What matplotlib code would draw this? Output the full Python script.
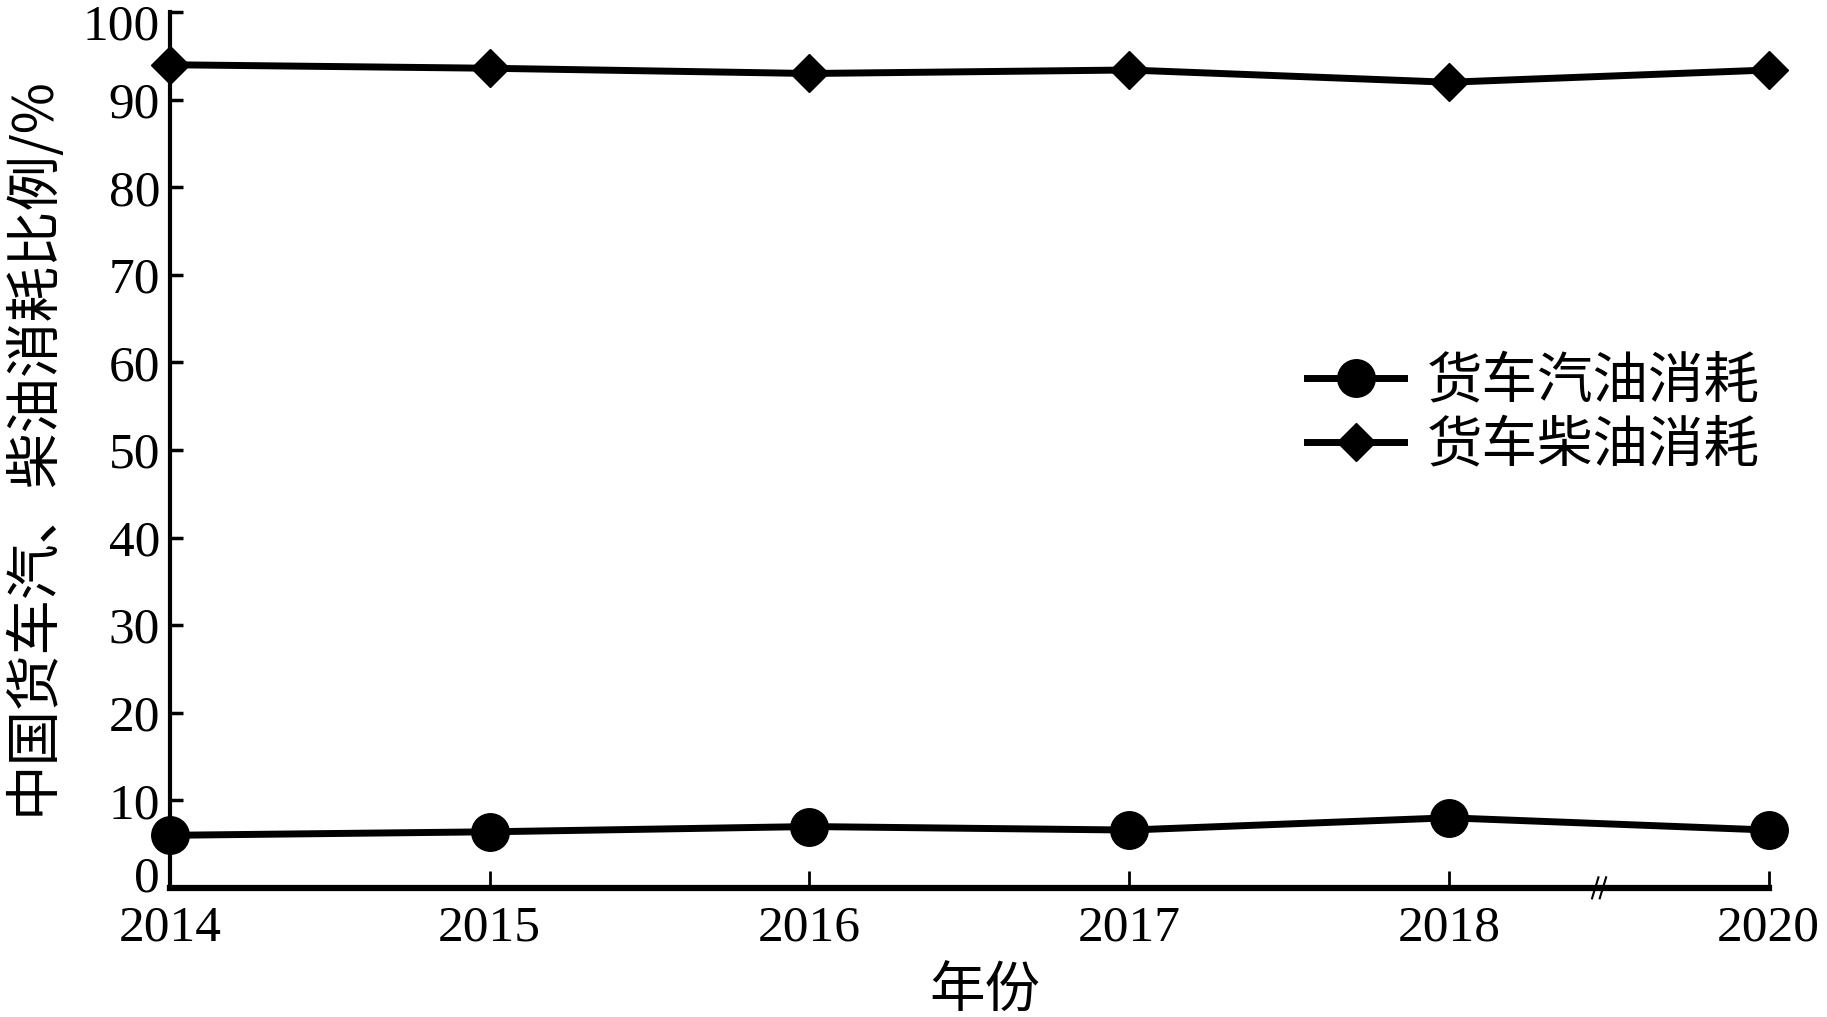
import matplotlib
matplotlib.use("Agg")
import matplotlib.pyplot as plt
from matplotlib.lines import Line2D
import matplotlib.transforms as mtransforms

years = ["2014", "2015", "2016", "2017", "2018", "2020"]
gasoline = [6.0, 6.4, 7.0, 6.6, 8.0, 6.6]
diesel = [94.0, 93.6, 93.0, 93.4, 92.0, 93.4]
yticks = [0, 10, 20, 30, 40, 50, 60, 70, 80, 90, 100]
label_gas = "货车汽油消耗"
label_diesel = "货车柴油消耗"
xlabel = "年份"
ylabel = "中国货车汽、柴油消耗比例/%"

cjk = ["Noto Sans CJK SC", "DejaVu Sans"]
serif = ["Liberation Serif", "DejaVu Serif"]

fig = plt.figure(figsize=(18.27, 10.17), dpi=100)
ax = fig.add_axes([0.093, 0.127, 0.875, 0.861])

x = list(range(len(years)))
ax.plot(x, gasoline, color="black", lw=5, marker="o", ms=27, clip_on=False,
        zorder=5, label=label_gas)
ax.plot(x, diesel, color="black", lw=5, marker="D", ms=19, clip_on=False,
        zorder=5, label=label_diesel)

ax.set_xlim(0, len(years) - 1)
ax.set_ylim(0, 100)
ax.set_xticks(x)
ax.set_xticklabels(years)
ax.set_yticks(yticks)
for s in ["top", "right"]:
    ax.spines[s].set_visible(False)
ax.spines["left"].set_linewidth(3)
ax.spines["bottom"].set_linewidth(4.5)
ax.tick_params(axis="y", direction="in", length=9, width=2.5, pad=7)
ax.tick_params(axis="x", direction="in", length=12, width=2, pad=12)
for lab in ax.get_xticklabels() + ax.get_yticklabels():
    lab.set_fontfamily(serif)
    lab.set_fontsize(37)

ax.set_ylabel(ylabel, family=cjk, fontsize=40)
ax.yaxis.set_label_coords(-0.068, 0.505)
ax.set_xlabel(xlabel, family=cjk, fontsize=40)
ax.xaxis.set_label_coords(0.51, -0.086)

# axis break mark between 2018 and 2020
trans = mtransforms.blended_transform_factory(ax.transData, ax.transAxes)
for dx in (-0.012, 0.012):
    ax.add_line(Line2D([4.47 + dx - 0.01, 4.47 + dx + 0.01], [-0.012, 0.012],
                       transform=trans, color="black", lw=1.5, clip_on=False))

leg = ax.legend(loc="center left", bbox_to_anchor=(1307 / 1827, 1 - 414 / 1017),
                bbox_transform=fig.transFigure, frameon=False,
                prop={"family": cjk, "size": 40}, handlelength=1.75,
                handletextpad=0.4, labelspacing=0.12, borderpad=0,
                borderaxespad=0)

# nudge the end tick labels as in the reference
ylabs = ax.get_yticklabels()
ylabs[0].set_transform(ylabs[0].get_transform() +
                       mtransforms.ScaledTranslation(0, 10 / 72, fig.dpi_scale_trans))
ylabs[-1].set_transform(ylabs[-1].get_transform() +
                        mtransforms.ScaledTranslation(0, -7 / 72, fig.dpi_scale_trans))

fig.savefig("out.png", dpi=100)
